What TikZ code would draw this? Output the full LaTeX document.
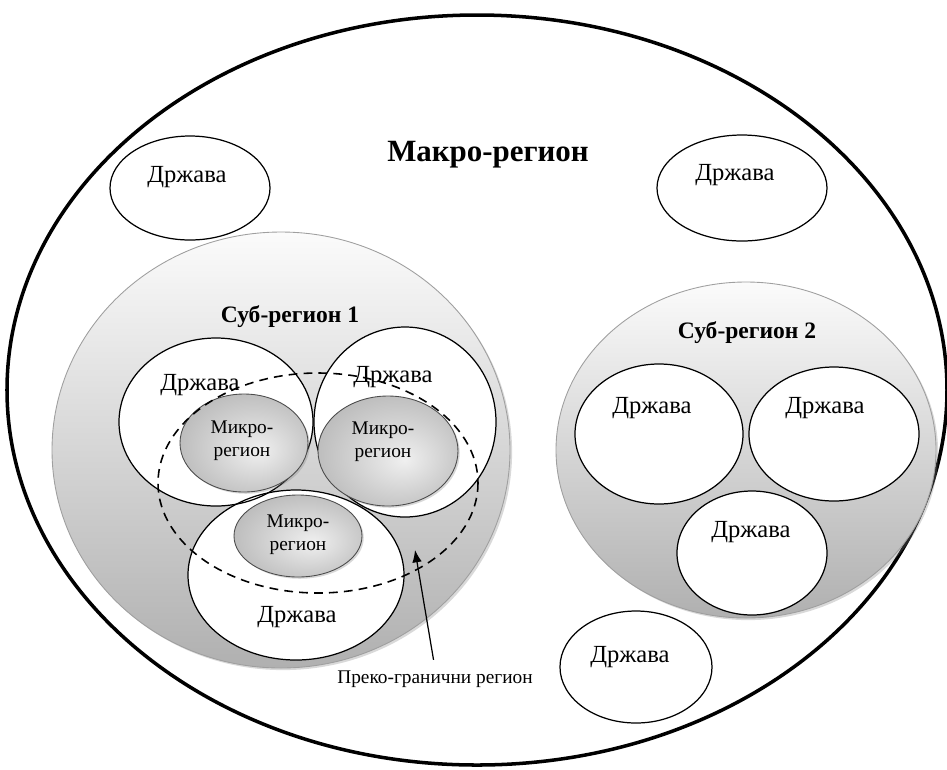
\documentclass[tikz,border=0pt]{standalone}
\usepackage{fontspec}
\setmainfont{Liberation Serif}
\usetikzlibrary{arrows.meta,shadows}
\pgfdeclareradialshading{mikroshade}{\pgfpoint{6bp}{-4bp}}{color(0bp)=(gray!12); color(18bp)=(gray!38); color(40bp)=(gray!68); color(50bp)=(gray!78)}
\tikzset{
  drzava/.style={draw=black, line width=0.7pt},
  subreg/.style={draw=gray!75, line width=0.5pt, top color=gray!3, bottom color=gray!62,
    drop shadow={opacity=0.3, shadow xshift=1.2pt, shadow yshift=-1.2pt}},
  mikro/.style={draw=gray!60!black, line width=0.5pt, shading=mikroshade,
    drop shadow={opacity=0.3, shadow xshift=1pt, shadow yshift=-1pt}},
  drzlbl/.style={font=\fontsize{14}{16}\selectfont, inner sep=1pt},
  sublbl/.style={font=\fontsize{13.4}{16}\selectfont\bfseries, inner sep=1pt},
  mikrolbl/.style={font=\fontsize{11}{13}\selectfont, align=center, inner sep=1pt},
}
\begin{document}
\begin{tikzpicture}[x=0.02cm,y=-0.02cm]
\useasboundingbox (0,0) rectangle (947,769);
%makro-region
\draw[line width=2pt] (477,390) ellipse [x radius=470, y radius=375];
\node[font=\fontsize{17.6}{20}\selectfont\bfseries] (makro) at (488,155) {Макро-регион};
%drzavi vo makro-regionot
\foreach \n/\cx/\cy/\rx/\ry/\tx/\ty in {a/190/188/80/52/187/177, b/742/188/85/53/735/175, c/636/667/76/56/630/657} {
\draw[drzava, fill=white] (\cx,\cy) ellipse [x radius=\rx, y radius=\ry];
\node[drzlbl] (drz\n) at (\tx,\ty) {Држава};
}
%sub-regioni
\path[subreg] (281,450) ellipse [x radius=229, y radius=218];
\path[subreg] (746,450) ellipse [x radius=190, y radius=168];
\node[sublbl] (sub1) at (290,317) {Суб-регион 1};
\node[sublbl] (sub2) at (747,333) {Суб-регион 2};
%drzavi vo sub-region 1
\foreach \cx/\cy/\rx/\ry in {216/422/97/84, 405/422/91/95, 296/575/108/85} {
\fill[white] (\cx,\cy) ellipse [x radius=\rx, y radius=\ry];
}
\foreach \cx/\cy/\rx/\ry in {216/422/97/84, 405/422/91/95, 296/575/108/85} {
\draw[drzava] (\cx,\cy) ellipse [x radius=\rx, y radius=\ry];
}
\node[drzlbl] (drzd) at (200,385) {Држава};
\node[drzlbl] (drze) at (393,377) {Држава};
\node[drzlbl] (drzf) at (297,617) {Држава};
%drzavi vo sub-region 2
\foreach \n/\cx/\cy/\rx/\ry/\tx/\ty in {g/659/434/84/70/652/408, h/834/434/85/67/825/408, i/752/553/75/62/751/532} {
\draw[drzava, fill=white] (\cx,\cy) ellipse [x radius=\rx, y radius=\ry];
\node[drzlbl] (drz\n) at (\tx,\ty) {Држава};
}
%mikro-regioni
\foreach \n/\cx/\cy/\rx/\ry in {a/244/443/64/49, b/388/451/70/55, c/298/536/64/41} {
\path[mikro] (\cx,\cy) ellipse [x radius=\rx, y radius=\ry];
}
\node[mikrolbl] (mikroa) at (242,441) {Микро-\\регион};
\node[mikrolbl] (mikrob) at (383,442) {Микро-\\регион};
\node[mikrolbl] (mikroc) at (298,535) {Микро-\\регион};
%preko-granicen region
\draw[line width=0.9pt, dash pattern=on 5pt off 3.5pt] (318,483) ellipse [x radius=160, y radius=110];
\node[font=\fontsize{11}{13}\selectfont, inner sep=1pt] (preko) at (435,679) {Преко-гранични регион};
\coordinate (prekotip) at (415,550);
\draw[line width=0.7pt, -{Latex[length=7pt,width=5.5pt]}, shorten <=5pt] (preko.north) -- (prekotip);
\end{tikzpicture}
\end{document}
